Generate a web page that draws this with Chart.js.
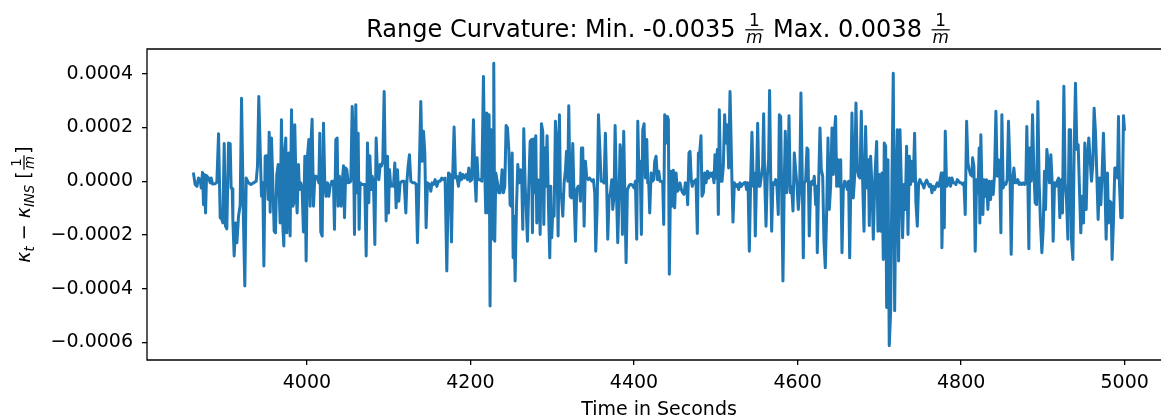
<!DOCTYPE html>
<html>
<head>
<meta charset="utf-8">
<script src="https://cdn.jsdelivr.net/npm/chart.js@4/dist/chart.umd.min.js"></script>
<style>
  html, body { margin: 0; padding: 0; background: #fff; overflow: hidden; }
  #wrap { width: 1175px; height: 419px; }
</style>
</head>
<body>
<div id="wrap"><canvas id="c" width="1175" height="419"></canvas></div>
<script>
// time in seconds
const times = [
  3861.4, 3863.4, 3865.5, 3867.5, 3869.5, 3870.8, 3872.4, 3873.6, 3874.8, 3876.1,
  3877.3, 3879.7, 3881.8, 3883.0, 3884.6, 3887.9, 3889.9, 3892.0, 3894.0, 3896.0,
  3897.2, 3898.9, 3900.5, 3902.1, 3904.2, 3906.2, 3907.4, 3908.7, 3909.5, 3911.1,
  3912.7, 3914.4, 3916.4, 3918.4, 3920.1, 3922.5, 3924.1, 3925.8, 3928.6, 3931.5,
  3934.7, 3938.0, 3939.6, 3941.2, 3942.9, 3944.5, 3946.1, 3947.4, 3949.0, 3951.0,
  3952.7, 3953.9, 3955.1, 3956.7, 3958.4, 3960.0, 3961.6, 3963.2, 3964.9, 3966.1,
  3967.3, 3968.9, 3970.6, 3971.8, 3973.0, 3974.2, 3975.5, 3976.7, 3977.9, 3979.5,
  3981.2, 3982.8, 3984.0, 3985.2, 3986.9, 3988.1, 3989.7, 3990.9, 3992.6, 3994.2,
  3995.8, 3997.5, 3999.1, 4000.7, 4002.4, 4004.0, 4005.2, 4006.4, 4008.1, 4009.7,
  4011.3, 4012.9, 4014.6, 4015.8, 4017.0, 4018.7, 4020.3, 4021.9, 4023.5, 4025.2,
  4026.8, 4028.4, 4030.5, 4032.5, 4033.7, 4035.4, 4037.0, 4038.2, 4039.8,
  4041.9, 4043.1, 4044.8, 4046.0, 4047.6, 4048.8, 4050.5, 4052.1, 4053.7, 4055.4,
  4057.0, 4058.2, 4059.8, 4061.1, 4062.7, 4063.9, 4065.1, 4067.2, 4069.2, 4070.8,
  4072.5, 4074.1, 4075.7, 4077.0, 4078.6, 4079.8, 4081.4, 4083.1, 4084.7, 4086.3,
  4088.0, 4089.6, 4091.2, 4092.8, 4094.5, 4096.1, 4096.9, 4098.6, 4099.8, 4101.0,
  4102.6, 4104.3, 4105.9, 4107.5, 4109.1, 4110.8, 4112.4, 4114.0, 4116.5, 4118.9,
  4121.0, 4122.2, 4123.8, 4125.4, 4127.1, 4129.5, 4132.0, 4133.6, 4135.2, 4136.8,
  4139.3, 4140.9, 4142.6, 4144.2, 4145.8, 4147.4, 4149.9, 4151.5, 4153.1, 4154.8,
  4156.8, 4158.9, 4160.9, 4162.9, 4165.0, 4167.0, 4169.0, 4171.1, 4173.1, 4175.1,
  4176.8, 4178.4, 4180.0, 4181.7, 4183.3, 4185.3, 4187.4, 4189.0, 4190.6, 4192.3,
  4194.7, 4196.3, 4198.0, 4199.6, 4201.6, 4203.7, 4205.3, 4206.9, 4208.1, 4209.4,
  4211.8, 4213.9, 4215.9, 4217.5, 4218.7, 4220.0, 4221.6, 4222.8, 4224.0, 4225.3,
  4226.5, 4227.7, 4228.5, 4229.7, 4231.0, 4233.0, 4234.6, 4236.3,
  4237.5, 4238.7, 4240.4, 4242.0, 4243.6, 4245.3, 4246.9, 4248.5, 4249.7, 4251.0,
  4252.2, 4253.4, 4254.6, 4256.3, 4257.9, 4259.5, 4261.2, 4262.8, 4264.0, 4265.2,
  4266.9, 4268.1, 4269.7, 4271.3, 4273.0, 4274.6, 4275.8, 4277.0, 4278.7, 4279.9,
  4281.1, 4282.3, 4284.0, 4285.2, 4286.8, 4288.4, 4289.7, 4290.9, 4292.1, 4293.7,
  4295.4, 4297.0, 4298.2, 4299.4, 4300.7, 4302.3, 4303.9, 4305.6, 4307.2, 4308.8,
  4310.0, 4311.3, 4312.9, 4314.5, 4316.2, 4317.4, 4319.0, 4320.2, 4321.9, 4323.5,
  4325.1, 4326.7, 4328.4, 4330.0, 4331.6, 4333.3, 4334.5, 4335.7, 4337.3, 4339.0,
  4340.6, 4342.2, 4343.9, 4345.5, 4347.1, 4348.7, 4350.4, 4352.0, 4353.2, 4354.9,
  4356.5, 4358.1, 4359.7, 4361.4, 4363.4, 4365.0, 4366.7, 4367.9, 4369.5, 4371.2,
  4372.8, 4374.0, 4375.6, 4376.9, 4378.5, 4380.1, 4381.7, 4383.0, 4384.6, 4385.8,
  4387.4, 4389.1, 4390.3, 4391.9, 4393.6, 4395.2, 4396.8, 4398.4, 4400.1, 4401.7,
  4403.3, 4404.6, 4406.2, 4407.4, 4409.0, 4410.7, 4412.3, 4413.9, 4415.6, 4416.8,
  4418.0, 4419.2, 4420.9, 4422.5, 4424.1, 4425.3, 4427.0, 4428.6, 4430.2, 4431.8,
  4433.4, 4435.1, 4436.3, 4437.5, 4439.1, 4440.8, 4442.0, 4443.2, 4444.8, 4446.5,
  4448.1, 4449.7, 4451.4, 4453.0, 4454.6, 4456.2, 4457.9, 4459.5, 4461.1, 4462.8,
  4464.4, 4465.6, 4467.2, 4468.5, 4470.1, 4471.3, 4473.0, 4474.6, 4475.8, 4477.4,
  4478.7, 4480.3, 4481.9, 4483.1, 4484.8, 4486.4, 4488.0, 4489.7, 4491.3, 4492.9,
  4494.5, 4496.2, 4497.8, 4499.0, 4500.2, 4501.9, 4503.1, 4504.3, 4505.9, 4507.6,
  4509.2, 4510.8, 4512.5, 4514.1, 4515.7, 4517.4, 4519.4, 4521.0, 4522.7, 4524.7,
  4526.3, 4528.0, 4529.6, 4531.2, 4532.8, 4534.5, 4536.1, 4537.7, 4539.4, 4541.0,
  4542.6, 4544.2, 4545.9, 4547.1, 4548.3, 4549.9, 4551.2, 4552.8, 4554.0, 4555.7,
  4557.3, 4558.5, 4559.7, 4561.4, 4563.0, 4564.6, 4565.8, 4567.1, 4568.3, 4569.9,
  4571.5, 4573.2, 4574.8, 4576.4, 4577.7, 4579.3, 4580.5, 4582.1, 4583.8, 4585.0,
  4586.6, 4588.2, 4589.5, 4591.1, 4592.7, 4594.4, 4596.0, 4597.6, 4599.2, 4600.9,
  4602.5, 4604.1, 4605.8, 4607.0, 4608.2, 4609.8, 4611.5, 4612.7, 4614.3, 4616.0,
  4617.6, 4619.2, 4620.4, 4622.1, 4623.3, 4624.1, 4625.7, 4627.4,
  4629.0, 4630.7, 4632.3, 4633.9, 4635.5, 4637.2, 4638.8, 4640.4, 4642.1, 4643.7,
  4645.3, 4646.5, 4647.8, 4649.4, 4651.0, 4652.7, 4654.3, 4655.9, 4657.5, 4659.2,
  4660.8, 4662.4, 4663.7, 4664.9, 4666.5, 4668.1, 4669.8, 4671.4, 4673.0, 4674.7,
  4676.3, 4677.9, 4679.5, 4681.2, 4683.2, 4684.8, 4686.5, 4687.7, 4689.3, 4691.0,
  4692.6, 4694.6, 4696.7, 4698.3, 4699.9, 4701.5, 4703.2, 4704.8, 4706.0, 4707.7,
  4708.9, 4710.5, 4712.1, 4713.8, 4715.4, 4717.0, 4718.7, 4720.3, 4721.9, 4723.5,
  4725.2, 4726.8, 4728.4, 4730.1, 4731.7, 4733.3, 4735.0, 4736.6, 4738.2, 4739.8,
  4741.5, 4743.1, 4744.7, 4746.4, 4748.0, 4749.6, 4751.3, 4752.9, 4754.5, 4756.1,
  4757.8, 4759.4, 4761.0, 4762.7, 4764.3, 4765.9, 4767.5, 4769.2, 4770.8, 4772.4,
  4774.1, 4775.7, 4776.5, 4778.1, 4779.4, 4780.6, 4782.2, 4783.9, 4785.5, 4787.1,
  4788.7, 4790.4, 4792.0, 4793.6, 4795.3, 4796.9, 4798.5, 4800.1, 4801.8, 4803.4,
  4805.0, 4806.7, 4808.3, 4809.9, 4811.5, 4813.2, 4814.0, 4815.6, 4817.2, 4818.9,
  4820.5, 4822.1,
  4822.9, 4824.1, 4825.3, 4826.6, 4827.8, 4829.4, 4831.0, 4832.7, 4834.3, 4835.9,
  4837.6, 4839.2, 4840.8, 4842.5, 4844.1, 4845.7, 4847.3, 4848.6, 4849.8, 4851.4,
  4853.0, 4854.7, 4856.3, 4857.9, 4859.6, 4861.2, 4862.8, 4864.5, 4866.1, 4867.7,
  4869.3, 4871.0, 4872.6, 4874.2, 4875.9, 4877.5, 4879.1, 4880.3, 4881.6, 4882.8,
  4884.0, 4885.6, 4887.3, 4888.9, 4890.5, 4892.2, 4893.8, 4895.4, 4897.0, 4898.7,
  4900.3, 4901.9, 4903.2, 4904.8, 4906.4, 4908.0, 4909.7, 4911.3, 4912.5, 4914.2,
  4915.8, 4917.4, 4919.1, 4920.7, 4922.3, 4923.9, 4925.6, 4927.2, 4928.8, 4930.5,
  4932.1, 4933.7, 4934.9, 4936.6, 4938.2, 4939.8, 4941.5, 4943.1, 4944.7, 4946.3,
  4948.0, 4949.6, 4951.2, 4952.9, 4954.5, 4956.1, 4957.8, 4959.4, 4961.0, 4962.6,
  4964.3, 4965.9, 4967.5, 4969.2, 4970.8, 4972.4, 4974.0, 4975.7, 4977.3, 4978.9,
  4980.2, 4981.8, 4983.4, 4984.6, 4986.3, 4987.9, 4989.5, 4991.2, 4992.4, 4993.6,
  4995.2, 4996.9, 4998.5, 4999.7
];

// kappa_t - kappa_INS in 1/m
const kappa = [
  2.8e-5, -1.2e-5, -1.9e-5, 1.2e-5, 0.6e-5, -2.5e-5, 3.3e-5, -8.7e-5, 2.5e-5, -11.8e-5,
  2.1e-5, 1.2e-5, -0.6e-5, 1.2e-5, -1.0e-5, -0.9e-5, -0.4e-5, 17.7e-5, -13.6e-5, -14.2e-5,
  -15.5e-5, 14.0e-5, -16.7e-5, -17.7e-5, 14.2e-5, 14.0e-5, -2.5e-5, -2.8e-5, -14.8e-5, -27.8e-5,
  -15.5e-5, -22.9e-5, -13.0e-5, -9.0e-5, 30.9e-5, -15.5e-5, -39.0e-5, 1.2e-5, -0.6e-5, -1.2e-5,
  -0.6e-5, 0, 5.6e-5, 31.5e-5, 11.8e-5, -5.6e-5, -0.6e-5, -31.5e-5, 9.3e-5, 9.5e-5,
  -6.8e-5, 18.2e-5, -11.5e-5, 16.1e-5, -0.6e-5, -18.6e-5, -19.2e-5, 2.5e-5, 6.2e-5, -3.1e-5,
  -15.5e-5, 22.9e-5, -16.7e-5, -24.1e-5, 11.8e-5, 16.1e-5, -19.2e-5, -4.3e-5, 10.5e-5, -20.4e-5,
  26.6e-5, -9.3e-5, -8.0e-5, 21.0e-5, -4.3e-5, -11.8e-5, 6.2e-5, -3.1e-5, -0.6e-5, -3.1e-5,
  -18.9e-5, 9.3e-5, -29.7e-5, 9.3e-5, 15.5e-5, -9.3e-5, 15.5e-5, 23.1e-5, -9.3e-5, 1.9e-5,
  1.9e-5, 1.2e-5, -0.6e-5, 17.9e-5, -18.9e-5, -20.4e-5, 21.6e-5, -0.6e-5, -5.6e-5, -0.6e-5,
  -5.6e-5, -1.9e-5, 0, 0, -17.9e-5, 15.5e-5, 16.1e-5, -9.3e-5, 1.9e-5,
  -9.3e-5, -0.6e-5, 5.8e-5, -13.6e-5, 4.9e-5, 4.3e-5, -0.6e-5, -0.4e-5, 0, 27.8e-5,
  13.0e-5, -19.8e-5, 28.5e-5, -4.3e-5, 17.9e-5, -17.9e-5, -0.6e-5, -1.2e-5, -1.2e-5, -1.2e-5,
  -27.8e-5, 14.2e-5, -8.0e-5, 9.5e-5, -3.1e-5, 1.9e-5, -0.6e-5, -23.5e-5, 16.1e-5, 3.1e-5,
  0.6e-5, 6.2e-5, 5.6e-5, 7.4e-5, 33.4e-5, 0, -14.8e-5, 9.3e-5, -11.8e-5, 4.3e-5,
  -1.9e-5, -1.2e-5, -1.9e-5, 6.8e-5, -9.9e-5, 4.3e-5, -7.4e-5, -0.6e-5, 0, 0,
  -11.8e-5, -0.6e-5, 5.6e-5, 9.9e-5, 0, -0.6e-5, -0.6e-5, -1.2e-5, -22.9e-5, -4.3e-5,
  29.7e-5, 7.4e-5, 18.6e-5, 10.5e-5, -17.3e-5, -0.6e-5, -1.2e-5, -3.7e-5, -0.6e-5, -1.2e-5,
  0.6e-5, -1.9e-5, 0, 0, 1.2e-5, 0.6e-5, 1.2e-5, -33.4e-5, 3.1e-5, 2.5e-5,
  -22.6e-5, 3.1e-5, 20.2e-5, 1.2e-5, 1.9e-5, -1.9e-5, 3.1e-5, 0.6e-5, 2.5e-5, 1.2e-5,
  2.5e-5, 0.6e-5, 4.9e-5, 0, 0.6e-5, 22.9e-5, 2.5e-5, -7.4e-5, 8.7e-5, 0.6e-5,
  0.6e-5, 0, 39.0e-5, 3.7e-5, -11.8e-5, 25.4e-5, -11.8e-5, 24.7e-5, -46.4e-5, 19.2e-5,
  0, -21.6e-5, 43.9e-5, -22.3e-5, 3.1e-5, -0.6e-5, -4.3e-5, -4.3e-5,
  -0.6e-5, 4.3e-5, -4.3e-5, -1.9e-5, 20.7e-5, 19.8e-5, 11.8e-5, -8.7e-5, -9.3e-5, 10.5e-5,
  -28.5e-5, -13.0e-5, -37.1e-5, -9.3e-5, 6.2e-5, -0.6e-5, 4.3e-5, -0.6e-5, -17.9e-5, 19.5e-5,
  -1.9e-5, -9.3e-5, -22.3e-5, -1.9e-5, 14.8e-5, 15.5e-5, -19.2e-5, 15.7e-5, -4.3e-5, 16.9e-5,
  -15.5e-5, 0.6e-5, -0.6e-5, -19.8e-5, 21.4e-5, 18.6e-5, -16.1e-5, 12.4e-5, -1.9e-5, 16.9e-5,
  -9.3e-5, -28.5e-5, -1.9e-5, -21.0e-5, -10.5e-5, -13.0e-5, 22.3e-5, 14.2e-5, -20.4e-5, 24.7e-5,
  -4.3e-5, -5.6e-5, -13.0e-5, -0.6e-5, 4.3e-5, 11.1e-5, 0, 28.1e-5, -5.6e-5, -6.2e-5,
  14.0e-5, -5.6e-5, -22.3e-5, -3.1e-5, -1.9e-5, -1.9e-5, -7.4e-5, 12.4e-5, 12.4e-5, -16.7e-5,
  7.4e-5, 1.2e-5, 0.6e-5, 1.2e-5, 0.6e-5, 0, 0.6e-5, -4.3e-5, -26.0e-5, -9.9e-5,
  24.7e-5, 13.0e-5, 0, 0, -0.6e-5, 17.9e-5, -3.1e-5, -21.6e-5, -6.2e-5, -4.3e-5,
  0.6e-5, -10.5e-5, -5.6e-5, 20.7e-5, -3.1e-5, -22.9e-5, -4.9e-5, 13.6e-5, 8.0e-5, -19.8e-5,
  18.6e-5, -10.5e-5, -30.3e-5, -3.1e-5, -1.9e-5, -1.2e-5, -1.2e-5, -1.6e-5, -2.5e-5, 0,
  -21.6e-5, 22.3e-5, 0, 7.4e-5, -19.8e-5, 19.2e-5, 21.4e-5, 1.2e-5, 15.5e-5, -0.6e-5,
  -0.6e-5, -11.8e-5, 3.1e-5, 0, 0.6e-5, 7.4e-5, 9.3e-5, 0.6e-5, 3.7e-5, 0,
  0, -0.6e-5, -16.1e-5, 24.7e-5, 14.2e-5, 24.1e-5, 22.9e-5, -34.6e-5, 3.7e-5, -9.3e-5,
  4.1e-5, -9.9e-5, 3.1e-5, -3.7e-5, -3.1e-5, -0.6e-5, -3.1e-5, -4.3e-5, -4.9e-5, -0.6e-5,
  -1.2e-5, -8.7e-5, 10.5e-5, 11.1e-5, 0, -1.9e-5, 0, 0, 0.6e-5, -19.4e-5,
  10.5e-5, 10.5e-5, 16.9e-5, -5.6e-5, -4.3e-5, 3.1e-5, -0.6e-5, 3.7e-5, 1.2e-5, 3.1e-5,
  1.9e-5, 3.1e-5, -0.6e-5, 9.9e-5, 1.2e-5, 11.8e-5, -12.4e-5, 26.6e-5, 0, 0,
  5.6e-5, 24.7e-5, 14.2e-5, 21.0e-5, 4.9e-5, 33.4e-5, 4.9e-5, -15.2e-5, -0.6e-5, -1.9e-5,
  -1.2e-5, -3.1e-5, -0.6e-5, -1.9e-5, -1.2e-5, -0.6e-5, -0.4e-5, -3.1e-5, -0.6e-5, -26.0e-5,
  0, 18.2e-5, -1.9e-5, 3.1e-5, -20.4e-5, 1.9e-5, 21.6e-5, -1.9e-5, -1.9e-5, 1.9e-5,
  5.6e-5, 25.1e-5, 1.9e-5, -16.7e-5, 1.9e-5, 8.0e-5, 33.8e-5, 1.9e-5, -18.6e-5, -0.6e-5,
  -1.2e-5, 0.6e-5, -1.9e-5, -12.4e-5, 24.7e-5, 24.1e-5, -3.1e-5, -37.1e-5, 1.2e-5, 18.6e-5,
  -4.3e-5, 1.9e-5, 24.4e-5, -4.3e-5, -1.9e-5, -11.1e-5, 10.5e-5, 4.3e-5, -1.2e-5, -10.5e-5,
  -3.7e-5, 32.8e-5, 0, -28.5e-5, -0.6e-5, 0, 12.4e-5, 11.8e-5, -20.4e-5, -0.6e-5,
  0, -1.2e-5, 1.9e-5, -8.7e-5, -1.9e-5, -26.6e-5, -1.2e-5, 19.8e-5,
  4.3e-5, 1.9e-5, -22.9e-5, -32.2e-5, -11.8e-5, 16.1e-5, -10.5e-5, -1.9e-5, 19.8e-5, 2.5e-5,
  19.2e-5, 24.1e-5, -1.9e-5, 8.0e-5, -1.9e-5, 8.0e-5, -26.6e-5, -3.1e-5, 0, -0.6e-5,
  -3.1e-5, 0, -28.5e-5, -5.6e-5, 25.4e-5, -6.2e-5, 1.9e-5, 29.1e-5, 4.3e-5, 1.9e-5,
  1.2e-5, 26.0e-5, 0.6e-5, -18.6e-5, 20.4e-5, -2.5e-5, 8.0e-5, -16.5e-5, 9.3e-5, -1.9e-5,
  -21.6e-5, 1.9e-5, 14.8e-5, -18.6e-5, 2.5e-5, -18.6e-5, 3.1e-5, -29.1e-5, 14.2e-5, 13.0e-5,
  -47.0e-5, 8.0e-5, -61.2e-5, -48.2e-5, 1.2e-5, 40.2e-5, -48.2e-5, -0.6e-5, 19.2e-5, -29.7e-5,
  19.2e-5, 0, -21.0e-5, -1.2e-5, -10.5e-5, 13.0e-5, -19.8e-5, 9.3e-5, -1.2e-5, 7.4e-5,
  0, 17.9e-5, -8.0e-5, -16.7e-5, -0.6e-5, 0.6e-5, -0.6e-5, -1.2e-5, -2.5e-5, -0.6e-5,
  0.4e-5, -0.6e-5, -1.9e-5, -1.2e-5, -4.3e-5, -1.9e-5, -3.1e-5, -1.9e-5, -0.6e-5, -1.9e-5,
  0, 3.1e-5, -24.7e-5, 3.1e-5, -17.3e-5, 18.6e-5, -1.9e-5, -1.2e-5, 1.2e-5, -1.9e-5,
  1.2e-5, -0.6e-5, -0.6e-5, -1.2e-5, 0.6e-5, 0, -0.6e-5, -0.6e-5, -1.2e-5, -0.6e-5,
  -12.4e-5, 22.3e-5, 6.8e-5, 4.3e-5, 2.5e-5, 1.9e-5, 8.7e-5, 5.6e-5, -26.0e-5, 0.6e-5,
  -4.3e-5, 12.4e-5,
  -15.5e-5, 17.3e-5, -0.6e-5, -12.4e-5, 0.6e-5, -5.6e-5, 0.6e-5, -10.5e-5, 0, -6.8e-5,
  0, -4.9e-5, 2.5e-5, 26.0e-5, 1.9e-5, 8.0e-5, 1.9e-5, -19.2e-5, 24.7e-5, -2.5e-5,
  -0.6e-5, -1.2e-5, 0.6e-5, 22.3e-5, 5.6e-5, -27.2e-5, 0.6e-5, 4.9e-5, -0.6e-5, -0.6e-5,
  0.6e-5, -1.2e-5, -0.6e-5, -1.2e-5, -0.6e-5, -1.2e-5, -0.6e-5, 20.4e-5, -0.6e-5, -25.1e-5,
  12.4e-5, 0, 24.7e-5, 4.3e-5, -8.0e-5, -8.7e-5, 29.7e-5, -0.6e-5, -15.5e-5, -26.6e-5,
  -17.9e-5, 3.7e-5, -10.5e-5, 11.8e-5, 6.8e-5, -0.6e-5, 9.9e-5, -0.6e-5, -22.3e-5, -0.6e-5,
  -1.9e-5, 0, 1.2e-5, -13.6e-5, 0.6e-5, -11.8e-5, 35.3e-5, -0.6e-5, -6.8e-5, -21.6e-5,
  19.2e-5, 19.2e-5, -21.6e-5, -29.1e-5, 12.4e-5, 36.5e-5, 11.8e-5, 13.6e-5, -3.1e-5, -19.2e-5,
  -5.6e-5, -15.5e-5, 14.2e-5, -10.5e-5, 9.3e-5, 16.1e-5, 7.4e-5, 0, 6.2e-5, 27.2e-5,
  17.9e-5, 2.5e-5, -14.2e-5, 1.2e-5, -8.7e-5, 3.1e-5, 17.9e-5, 0, -21.6e-5, 3.1e-5,
  -15.5e-5, -7.4e-5, -8.0e-5, -29.1e-5, -14.2e-5, 4.9e-5, 4.9e-5, 1.2e-5, 24.1e-5, -1.2e-5,
  -13.6e-5, -13.6e-5, 24.4e-5, 19.2e-5
];

const xTicks = [4000, 4200, 4400, 4600, 4800, 5000];
const yTicks = [-0.0006, -0.0004, -0.0002, 0, 0.0002, 0.0004];

const FONT = "'DejaVu Sans'";
const BLUE = "#1f77b4";

// little helpers for the mathtext-like labels
function partWidth(ctx, p) {
    if (p.num !== undefined) {
        ctx.font = p.size + "px " + FONT;
        const wn = ctx.measureText(p.num).width;
        ctx.font = "italic " + p.size + "px " + FONT;
        const wd = ctx.measureText(p.den).width;
        return Math.max(wn, wd) + p.size * 0.35;
    }
    ctx.font = (p.italic ? "italic " : "") + p.size + "px " + FONT;
    return ctx.measureText(p.text).width;
}

function drawParts(ctx, parts, x, y) {
    for (const p of parts) {
        const w = partWidth(ctx, p);
        if (p.num !== undefined) {
            const bar = y - p.axis;
            ctx.fillRect(x + p.size * 0.12, bar - 0.6, w - p.size * 0.24, 1.2);
            ctx.textAlign = "center";
            ctx.font = p.size + "px " + FONT;
            ctx.fillText(p.num, x + w / 2, bar - p.size * 0.2);
            ctx.font = "italic " + p.size + "px " + FONT;
            ctx.fillText(p.den, x + w / 2, bar + p.size * 0.2 + p.size * 0.56);
            ctx.textAlign = "left";
        } else {
            ctx.fillText(p.text, x, y + (p.dy || 0));
        }
        x += w;
    }
}

function runWidth(ctx, parts) {
    return parts.reduce((s, p) => s + partWidth(ctx, p), 0);
}

const labels = {
    id: "labels",
    afterDraw(chart) {
        const { ctx, chartArea: a } = chart;
        const cx = (a.left + a.right) / 2;
        const cy = (a.top + a.bottom) / 2;
        ctx.save();

        // axes spines (the right one lies past the picture edge)
        ctx.strokeStyle = "#000";
        ctx.lineWidth = 1.3;
        ctx.beginPath();
        ctx.moveTo(chart.width, a.top);
        ctx.lineTo(a.left, a.top);
        ctx.lineTo(a.left, a.bottom);
        ctx.lineTo(chart.width, a.bottom);
        ctx.stroke();

        ctx.fillStyle = "#000";
        ctx.textBaseline = "alphabetic";
        ctx.textAlign = "left";

        // title
        const T = 24;
        const frac = { num: "1", den: "m", size: T * 0.7, axis: T * 0.3 };
        const title = [
            { text: "Range Curvature: Min. -0.0035 ", size: T },
            frac,
            { text: " Max. 0.0038 ", size: T },
            frac
        ];
        drawParts(ctx, title, cx - runWidth(ctx, title) / 2, 37);

        // x label
        ctx.font = "19px " + FONT;
        ctx.textAlign = "center";
        ctx.fillText("Time in Seconds", cx, 415);
        ctx.textAlign = "left";

        // y label
        const S = 19, s = 13.3;
        const ylab = [
            { text: "κ", italic: true, size: S },
            { text: "t", italic: true, size: s, dy: 4 },
            { text: " − ", size: S },
            { text: "κ", italic: true, size: S },
            { text: "INS", italic: true, size: s, dy: 4 },
            { text: " [", size: S },
            { num: "1", den: "m", size: s, axis: 6 },
            { text: "]", size: S }
        ];
        ctx.translate(30, cy);
        ctx.rotate(-Math.PI / 2);
        drawParts(ctx, ylab, -runWidth(ctx, ylab) / 2, 0);

        ctx.restore();
    }
};

const points = times.map((t, i) => ({ x: t, y: kappa[i] }));

new Chart(document.getElementById("c"), {
    type: "line",
    data: {
        datasets: [{
            data: points,
            borderColor: BLUE,
            borderWidth: 3,
            borderJoinStyle: "round",
            borderCapStyle: "round",
            pointRadius: 0,
            tension: 0,
            fill: false
        }]
    },
    options: {
        responsive: false,
        animation: false,
        layout: { padding: { top: 49, right: 4, left: 0, bottom: 0 } },
        plugins: {
            legend: { display: false },
            tooltip: { enabled: false },
            title: { display: false }
        },
        scales: {
            x: {
                type: "linear",
                min: 3804.5,
                max: 5056.6,
                afterBuildTicks: (s) => { s.ticks = xTicks.map(v => ({ value: v })); },
                afterFit: (s) => { s.height = 59; },
                border: { display: false },
                grid: { drawOnChartArea: false, tickLength: 5, color: "#000", lineWidth: 1.3 },
                ticks: {
                    autoSkip: false,
                    maxRotation: 0,
                    padding: 7,
                    color: "#000",
                    font: { family: "DejaVu Sans", size: 19 },
                    callback: (v) => String(v)
                }
            },
            y: {
                type: "linear",
                min: -0.000665,
                max: 0.000492,
                afterBuildTicks: (s) => { s.ticks = yTicks.map(v => ({ value: v })); },
                afterFit: (s) => { s.width = 147; },
                border: { display: false },
                grid: { drawOnChartArea: false, tickLength: 5, color: "#000", lineWidth: 1.3 },
                ticks: {
                    autoSkip: false,
                    padding: 9,
                    color: "#000",
                    font: { family: "DejaVu Sans", size: 19 },
                    callback: (v) => (v < 0 ? "−" : "") + Math.abs(v).toFixed(4)
                }
            }
        }
    },
    plugins: [labels]
});
</script>
</body>
</html>
